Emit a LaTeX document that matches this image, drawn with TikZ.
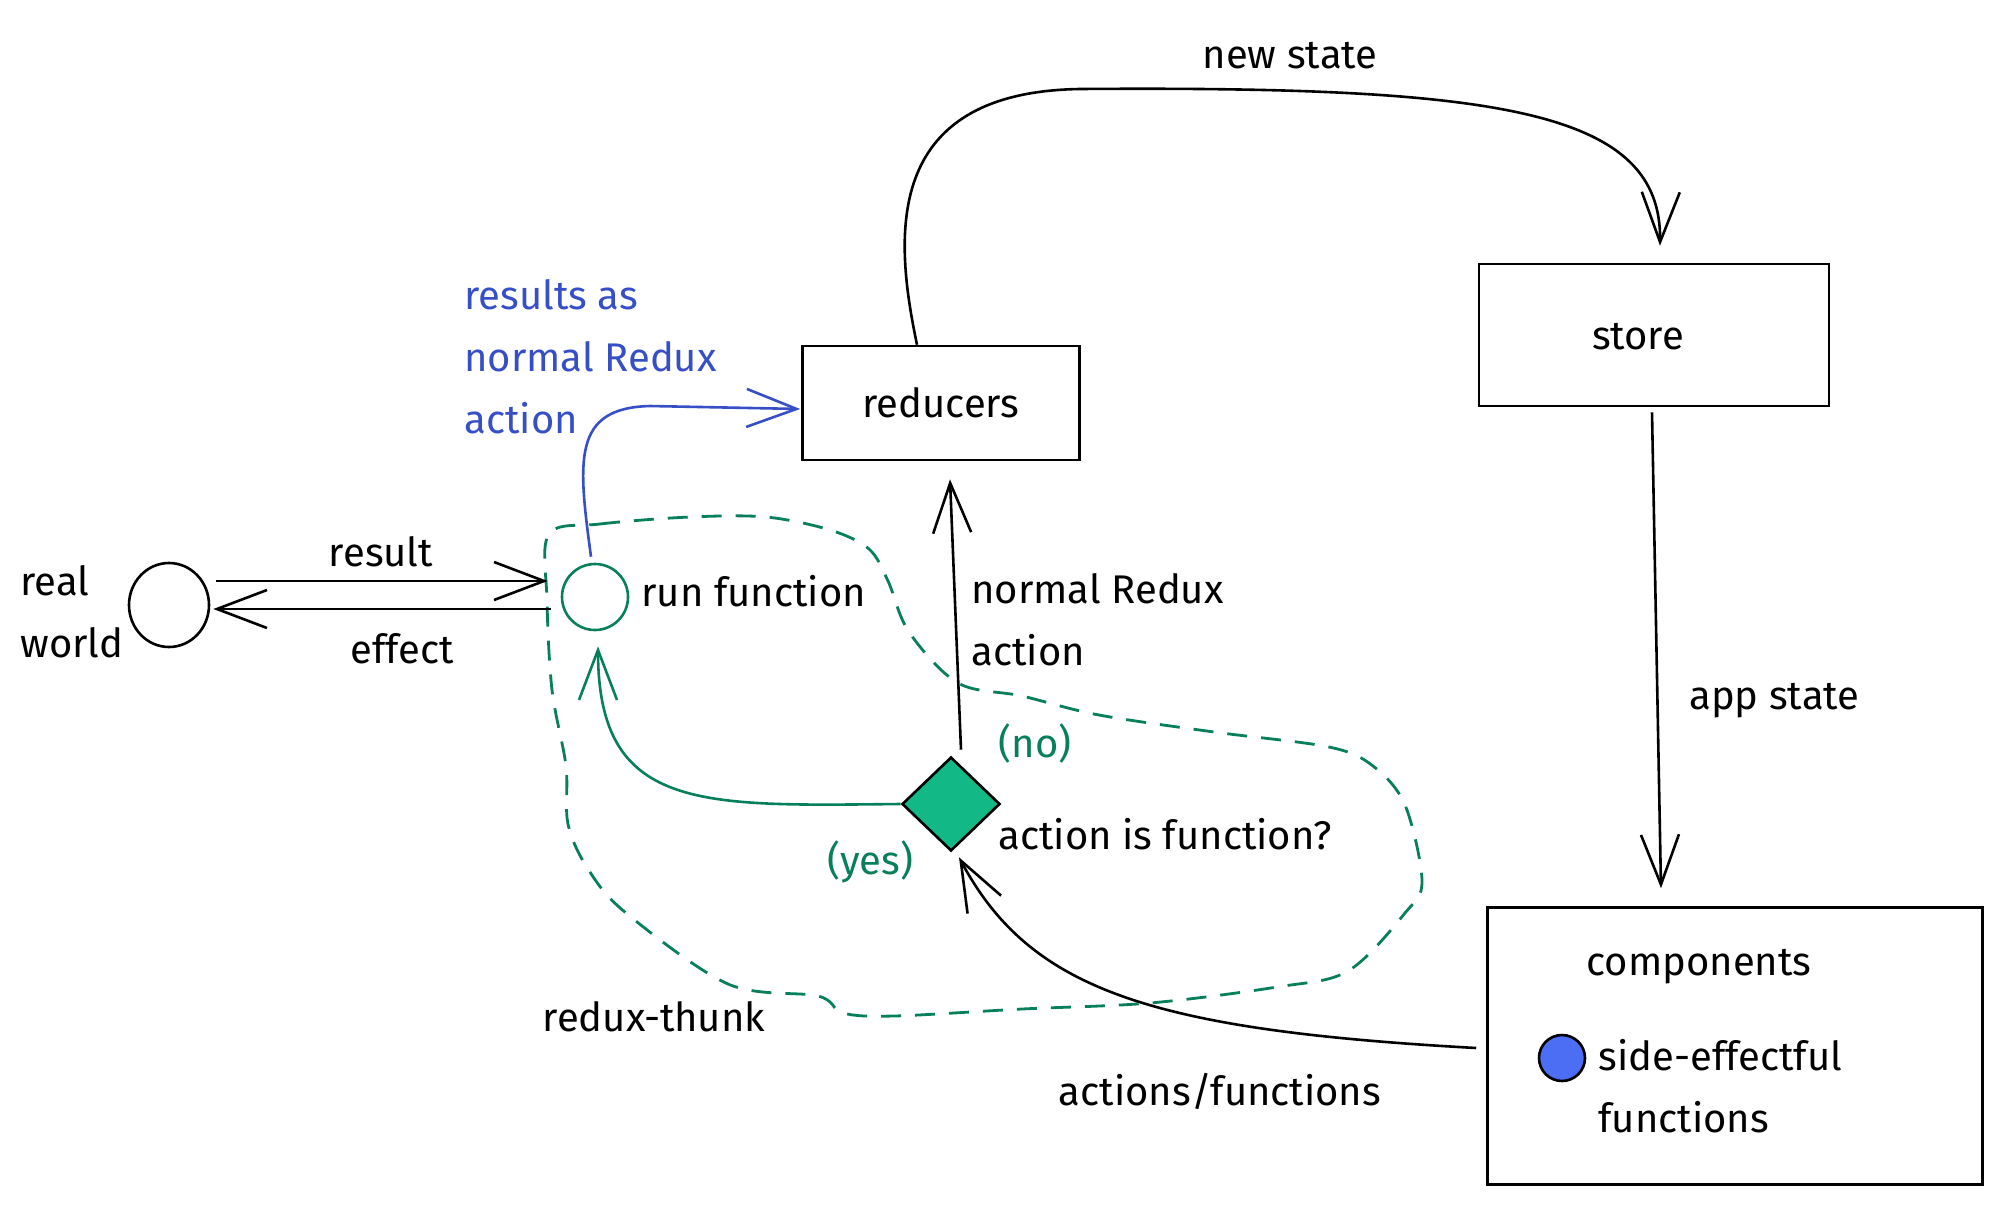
\documentclass[tikz,border=0pt]{standalone}
\usepackage{fontspec}
\setmainfont{Fira Sans}
\usetikzlibrary{arrows.meta,shapes.geometric,calc}
\definecolor{grn}{HTML}{087F5B}
\definecolor{grnfill}{HTML}{12B886}
\definecolor{blu}{HTML}{364FC7}
\definecolor{bluefill}{HTML}{4C6EF5}
\begin{document}
\begin{tikzpicture}[x=0.5pt,y=-0.5pt,
  every node/.style={font=\fontsize{20pt}{31pt}\selectfont},
  box/.style={draw,line width=1.3pt,rectangle,inner sep=0pt},
  arr/.style={line width=1.3pt,-{Straight Barb[length=25pt,width=19pt]}},
  lbl/.style={inner sep=0pt,text=black},
  region/.style={draw=grn,line width=1.4pt,dash pattern=on 10pt off 7pt}]
\useasboundingbox (0,0) rectangle (2003,1205);
% shapes
\node[box,minimum width=138.5pt,minimum height=57pt] (red) at (941,403) {reducers};
\node[box,minimum width=175pt,minimum height=71pt] (store) at (1654,335) {};
\node[lbl] (tstore) at (1638,337) {store};
\node[box,minimum width=247.5pt,minimum height=138.5pt] (comp) at (1735,1046) {};
\node[draw,ellipse,line width=1.3pt,minimum width=40pt,minimum height=42pt,inner sep=0pt] (rw) at (169,605) {};
\node[draw=grn,circle,line width=1.3pt,minimum size=33pt,inner sep=0pt] (rf) at (595,597) {};
\node[draw,diamond,fill=grnfill,line width=1.3pt,minimum width=49pt,minimum height=47pt,inner sep=0pt] (dia) at (951,804) {};
\node[draw,circle,fill=bluefill,line width=1.3pt,minimum size=23pt,inner sep=0pt] (dot) at (1562,1058) {};
% redux-thunk region
\draw[region] plot[smooth cycle,tension=0.55] coordinates {
 (549,534) (600,524) (690,517) (766,517) (830,530) (869,549) (888,581)
 (909,632) (958,683) (1022,696) (1099,715) (1214,732) (1329,747) (1373,766)
 (1405,805) (1422,881) (1405,913) (1348,971) (1277,987) (1150,1003) (1022,1009)
 (894,1016) (843,1013) (818,996) (728,984) (626,913) (588,869) (568,824)
 (566,766) (552,690) (547,600)};
% labels
\node[lbl,anchor=west,align=left] (realworld) at (20,612) {real\\world};
\node[lbl] (tresult) at (381,552) {result};
\node[lbl] (teffect) at (402,649) {effect};
\node[lbl,anchor=west] (trun) at (641,591) {run function};
\node[lbl,anchor=west,align=left,text=blu] (tblue) at (464,357) {results as\\normal Redux\\action};
\node[lbl] (tnew) at (1290,56) {new state};
\node[lbl,anchor=west,align=left] (tnra) at (971,620) {normal Redux\\action};
\node[lbl,anchor=west] (tapp) at (1689,701) {app state};
\node[lbl,text=grn] (tno) at (1035,743) {(no)};
\node[lbl,text=grn] (tyes) at (870,862) {(yes)};
\node[lbl,anchor=west] (tq) at (998,834) {action is function?};
\node[lbl] (tthunk) at (654,1017) {redux-thunk};
\node[lbl] (tacts) at (1220,1091) {actions/functions};
\node[lbl] (tcomp) at (1699,967) {components};
\node[lbl,anchor=west,align=left] (tside) at (1598,1086) {side-effectful\\functions};
% connectors
\draw[arr] ($(rw.east)+(6,-24)$) -- ($(rf.west)+(-13,-16)$);
\draw[arr] ($(rf.west)+(-10,12)$) -- ($(rw.east)+(3,4)$);
\draw[arr,blu] ($(rf.north)+(-4,-6)$) .. controls (578,460) and (572,408) .. (650,406) -- ($(red.west)+(-1,6)$);
\draw[arr] ($(red.north)+(-24,0)$) .. controls (895,240) and (880,92) .. (1080,89) .. controls (1500,86) and (1662,110) .. ($(store.north)+(6,-17)$);
\draw[arr] ($(store.south)+(-2,5)$) -- ($(comp.north)+(-74,-18)$);
\draw[arr] ($(dia.north)+(10,-6)$) -- ($(red.south)+(9,18)$);
\draw[arr] ($(comp.west)+(-10,2)$) .. controls (1150,1030) and (1030,990) .. ($(dia.south)+(8,5)$);
\draw[arr,grn] (dia.west) .. controls (700,806) and (598,812) .. ($(rf.south)+(3,15)$);
\end{tikzpicture}
\end{document}
